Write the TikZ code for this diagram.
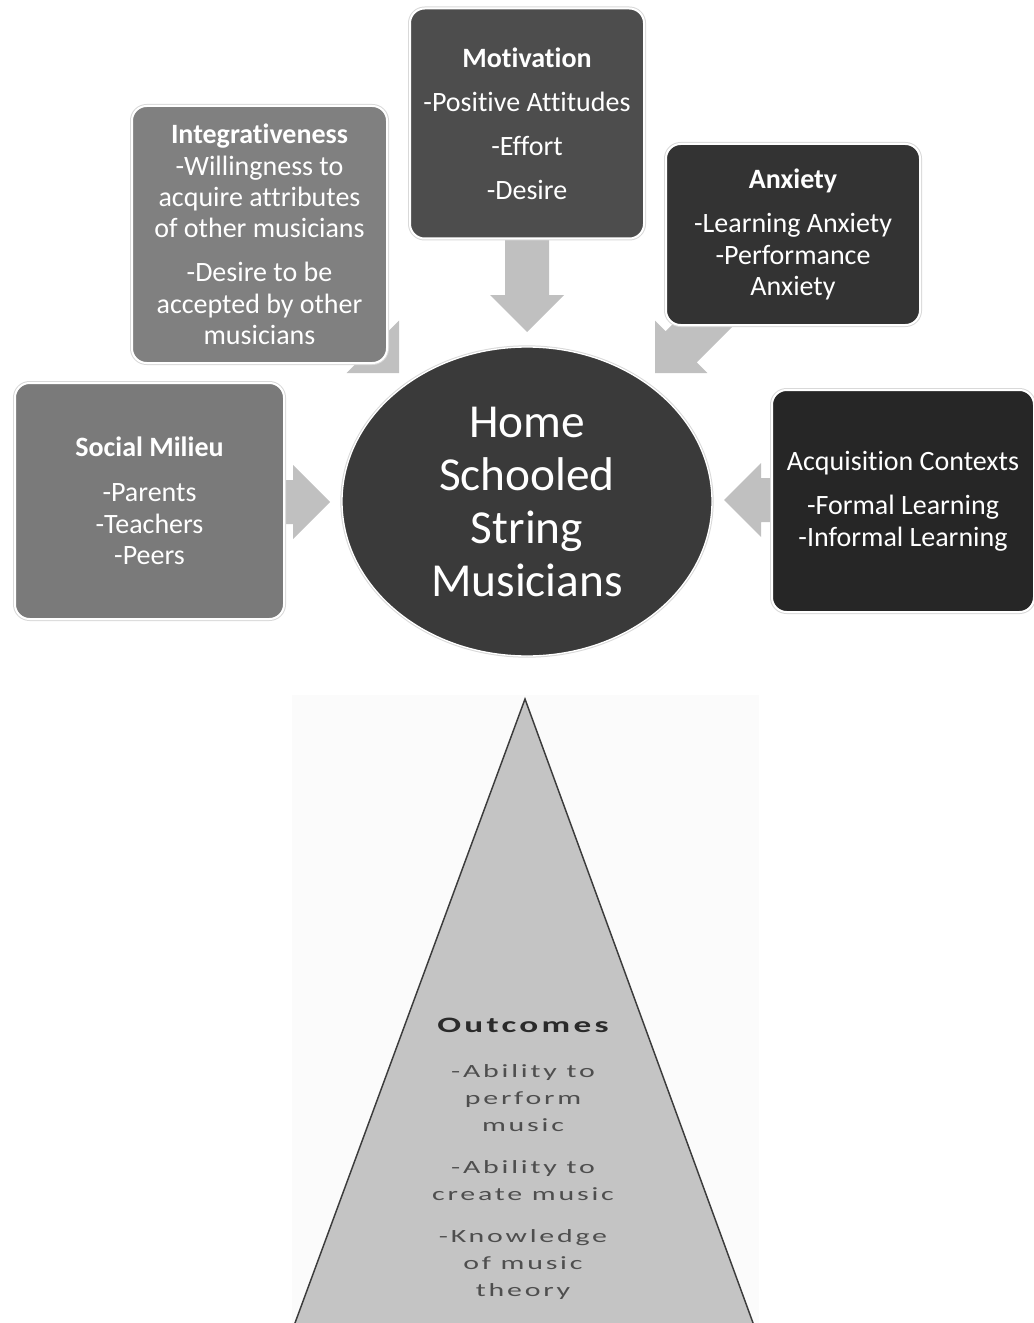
\documentclass[tikz,border=0pt]{standalone}
\usepackage{fontspec}
\setmainfont[Ligatures={NoCommon}]{Carlito}
\newfontfamily\widefont[FakeStretch=1.6,LetterSpace=15,Ligatures={NoCommon}]{Carlito}
\usetikzlibrary{shapes.geometric}
\definecolor{integfill}{HTML}{808080}
\definecolor{motifill}{HTML}{4D4D4D}
\definecolor{anxfill}{HTML}{333333}
\definecolor{socfill}{HTML}{7A7A7A}
\definecolor{acqfill}{HTML}{262626}
\definecolor{centfill}{HTML}{3A3A3A}
\definecolor{arrowfill}{HTML}{C0C0C0}
\definecolor{trifill}{HTML}{C4C4C4}
\definecolor{triline}{HTML}{3C3C3C}
\definecolor{outhead}{HTML}{2A2A2A}
\definecolor{outtext}{HTML}{4E4E4E}
\definecolor{panelbg}{HTML}{FBFBFB}
\tikzset{
  pics/blockarr/.style={code={
    \fill[arrowfill] (0,0) -- (-37,-37) -- (-37,-22) -- (-#1,-22) -- (-#1,22) -- (-37,22) -- (-37,37) -- cycle;}},
  box/.style={rectangle, rounded corners=11pt, draw=white, line width=1.5pt,
    preaction={draw=black!15, line width=3pt}, text=white, align=center, inner sep=0pt,
    font=\fontsize{21}{23.6}\selectfont},
  hub/.style={ellipse, draw=white, line width=1pt,
    preaction={draw=black!15, line width=2.5pt}, text=white, align=center, inner sep=0pt,
    font=\fontsize{35.5}{39.75}\selectfont},
  outcometext/.style={align=center, inner sep=0pt, text=outtext,
    font=\widefont\fontsize{14}{20.25}\selectfont}
}
\begin{document}
\begin{tikzpicture}[x=0.75pt,y=-0.75pt]
\useasboundingbox (0,0) rectangle (1033,1323);
\fill[white] (0,0) rectangle (1033,1323);

% tips of the block arrows
\coordinate (tipM) at (527,332);
\coordinate (tipI) at (399,373);
\coordinate (tipA) at (655,373);
\coordinate (tipS) at (330,502);
\coordinate (tipC) at (724,500);

\pic[rotate=-90]  at (tipM) {blockarr=102};
\pic[rotate=-45]  at (tipI) {blockarr=97};
\pic[rotate=-135] at (tipA) {blockarr=97};
\pic[rotate=0]    at (tipS) {blockarr=60};
\pic[rotate=180]  at (tipC) {blockarr=66};

\node[box, fill=integfill, minimum width=191.25pt, minimum height=192.75pt] (integ) at (259.5,234.5)
  {\textbf{Integrativeness}\\ -Willingness to\\ acquire attributes\\ of other musicians\\[9.4pt] -Desire to be\\ accepted by other\\ musicians};
\node[box, fill=motifill, minimum width=175.5pt, minimum height=172.5pt] (moti) at (527,123.5)
  {\textbf{Motivation}\\[9.4pt] -Positive Attitudes\\[9.4pt] -Effort\\[9.4pt] -Desire};
\node[box, fill=anxfill, minimum width=190.5pt, minimum height=135.75pt] (anx) at (793,234.5)
  {\textbf{Anxiety}\\[9.4pt] -Learning Anxiety\\ -Performance\\ Anxiety};
\node[box, fill=socfill, minimum width=201.75pt, minimum height=177pt] (soc) at (149.5,501)
  {\textbf{Social Milieu}\\[10pt] -Parents\\ -Teachers\\ -Peers};
\node[box, fill=acqfill, minimum width=196.5pt, minimum height=166.5pt] (acq) at (903,501)
  {Acquisition Contexts\\[10pt] -Formal Learning\\ -Informal Learning};
\node[hub, fill=centfill, minimum width=277.5pt, minimum height=231.75pt] (hub) at (527,501.5)
  {Home\\ Schooled\\ String\\ Musicians};

% outcomes pyramid
\fill[panelbg] (292,695) rectangle (759,1323);
\coordinate (apex) at (525,699);
\draw[fill=trifill, draw=triline, line width=1.1pt] (apex) -- (292.4,1330) -- (755.6,1330) -- cycle;
\node[outcometext] (outc) at (523,1159)
  {{\color{outhead}\fontsize{16.5}{20.25}\selectfont\bfseries Outcomes}\\[13.5pt]
   -Ability to\\ perform\\ music\\[11.25pt]
   -Ability to\\ create music\\[11.25pt]
   -Knowledge\\ of music\\ theory};
\end{tikzpicture}
\end{document}
